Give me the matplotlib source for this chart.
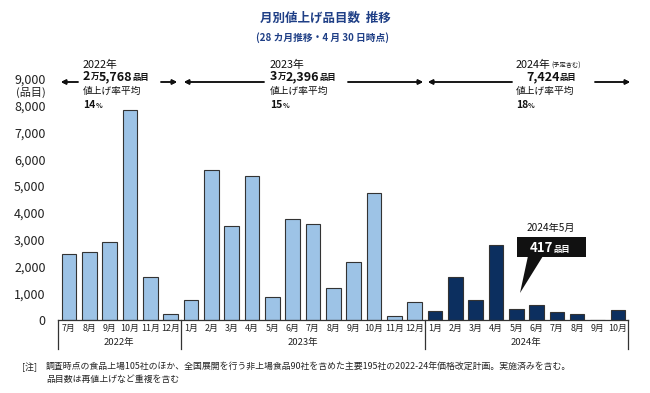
import matplotlib.pyplot as plt
from matplotlib.patches import Polygon, Rectangle
import matplotlib.transforms as mtransforms

plt.rcParams['font.family'] = ['Noto Sans CJK JP', 'DejaVu Sans']

months_2022 = ['7月', '8月', '9月', '10月', '11月', '12月']
months_2023 = ['1月', '2月', '3月', '4月', '5月', '6月', '7月', '8月', '9月', '10月', '11月', '12月']
months_2024 = ['1月', '2月', '3月', '4月', '5月', '6月', '7月', '8月', '9月', '10月']
items_2022 = [2460, 2530, 2910, 7840, 1590, 210]
items_2023 = [730, 5620, 3510, 5380, 850, 3770, 3590, 1190, 2150, 4760, 150, 680]
items_2024 = [340, 1620, 760, 2800, 417, 560, 300, 240, 0, 387]
years = ['2022年', '2023年', '2024年']
yticks = [0, 1000, 2000, 3000, 4000, 5000, 6000, 7000, 8000, 9000]

light = '#9dc3e6'
navy = '#0c2f5f'
title_col = '#1f3f86'

W, H = 650, 393
fig = plt.figure(figsize=(6.5, 3.93), dpi=100)


def fx(x):
    return x / W


def fy(y):
    return 1 - y / H


ax = fig.add_axes([fx(58), fy(320), fx(628) - fx(58), fy(79) - fy(320)])

labels = months_2022 + months_2023 + months_2024
values = items_2022 + items_2023 + items_2024
colors = [light] * (len(items_2022) + len(items_2023)) + [navy] * len(items_2024)
xs = list(range(len(values)))
ax.bar(xs, values, width=0.72, color=colors, edgecolor='#333333', linewidth=0.8)

ax.set_xlim(-0.54, len(values) - 0.5)
ax.set_ylim(0, 9000)
ax.set_yticks(yticks)
ax.set_yticklabels([f'{v:,}' for v in yticks], fontsize=9, color='#222')
ax.tick_params(axis='y', length=0, pad=9)
ax.set_xticks(xs)
ax.set_xticklabels(labels, fontsize=6.4, color='#222')
ax.tick_params(axis='x', length=0, pad=3)
for s in ['top', 'right', 'left']:
    ax.spines[s].set_visible(False)
ax.spines['bottom'].set_color('#333')
ax.spines['bottom'].set_linewidth(0.9)

# year brackets under the month labels
trans = mtransforms.blended_transform_factory(ax.transData, fig.transFigure)
n1, n2 = len(items_2022), len(items_2022) + len(items_2023)
bounds = [-0.54, n1 - 0.5, n2 - 0.5, len(values) - 0.5]
for b in bounds:
    ax.plot([b, b], [fy(320), fy(349)], color='#333', lw=0.9, transform=trans, clip_on=False)
for i, yr in enumerate(years):
    ax.text((bounds[i] + bounds[i + 1]) / 2, fy(343), yr, transform=trans,
            ha='center', va='center', fontsize=6.8, color='#222')

fig.text(fx(31), fy(92), '(品目)', ha='center', va='center', fontsize=8, color='#222')

# title
fig.text(fx(325), fy(18), '月別値上げ品目数  推移', ha='center', va='center',
         fontsize=9, fontweight='bold', color=title_col)
fig.text(fx(323), fy(38), '(28 カ月推移・4 月 30 日時点)', ha='center', va='center',
         fontsize=7, fontweight='bold', color=title_col)

renderer = fig.canvas.get_renderer()


def pieces(x, y, parts, color='#111'):
    # draw text runs one after another on a shared baseline
    for s, size, weight in parts:
        t = fig.text(fx(x), fy(y), s, ha='left', va='baseline', fontsize=size,
                     fontweight=weight, color=color)
        x += t.get_window_extent(renderer).width


def arrow(x0, x1, y=82):
    fig.add_artist(plt.annotate('', xy=(fx(x1), fy(y)), xytext=(fx(x0), fy(y)),
                                xycoords='figure fraction', textcoords='figure fraction',
                                arrowprops=dict(arrowstyle='-|>', color='#111', lw=1.1,
                                                mutation_scale=7, shrinkA=0, shrinkB=0)))


arrow(78, 61)
arrow(161, 177)
arrow(264, 184)
arrow(348, 423)
arrow(512, 428)
arrow(595, 630)

pieces(83, 68, [('2022年', 7.8, 'normal')])
pieces(83, 80, [('2', 9, 'bold'), ('万', 6, 'bold'), ('5,768', 9, 'bold'), ('品目', 6, 'bold')])
pieces(83, 94, [('値上げ率平均', 7, 'normal')])
pieces(83, 108, [('14', 7.5, 'bold'), ('%', 5, 'bold')])

pieces(270, 68, [('2023年', 7.8, 'normal')])
pieces(270, 80, [('3', 9, 'bold'), ('万', 6, 'bold'), ('2,396', 9, 'bold'), ('品目', 6, 'bold')])
pieces(270, 94, [('値上げ率平均', 7, 'normal')])
pieces(270, 108, [('15', 7.5, 'bold'), ('%', 5, 'bold')])

pieces(516, 68, [('2024年', 7.8, 'normal'), ('(予定含む)', 4.5, 'normal')])
pieces(526, 80, [('7,424', 9, 'bold'), ('品目', 6, 'bold')])
pieces(516, 94, [('値上げ率平均', 7, 'normal')])
pieces(516, 108, [('18', 7.5, 'bold'), ('%', 5, 'bold')])

# callout for May 2024
fig.text(fx(551), fy(228), '2024年5月', ha='center', va='center', fontsize=7.3, color='#111')
fig.add_artist(Rectangle((fx(517), fy(257)), fx(586) - fx(517), fy(237) - fy(257),
                         transform=fig.transFigure, facecolor='#111', edgecolor='none'))
fig.add_artist(Polygon([(fx(528), fy(256)), (fx(543), fy(256)), (fx(520), fy(293))],
                       closed=True, transform=fig.transFigure, facecolor='#111', edgecolor='none'))
pieces(530, 252, [('417', 9.5, 'bold'), ('品目', 6, 'bold')], color='white')

# footnote
fig.text(fx(22), fy(367), '[注]', ha='left', va='center', fontsize=6.4, color='#222')
fig.text(fx(46), fy(367), '調査時点の食品上場105社のほか、全国展開を行う非上場食品90社を含めた主要195社の2022-24年価格改定計画。実施済みを含む。',
         ha='left', va='center', fontsize=6.4, color='#222')
fig.text(fx(46), fy(379), '品目数は再値上げなど重複を含む', ha='left', va='center', fontsize=6.4, color='#222')

fig.savefig('out.png', dpi=100)
